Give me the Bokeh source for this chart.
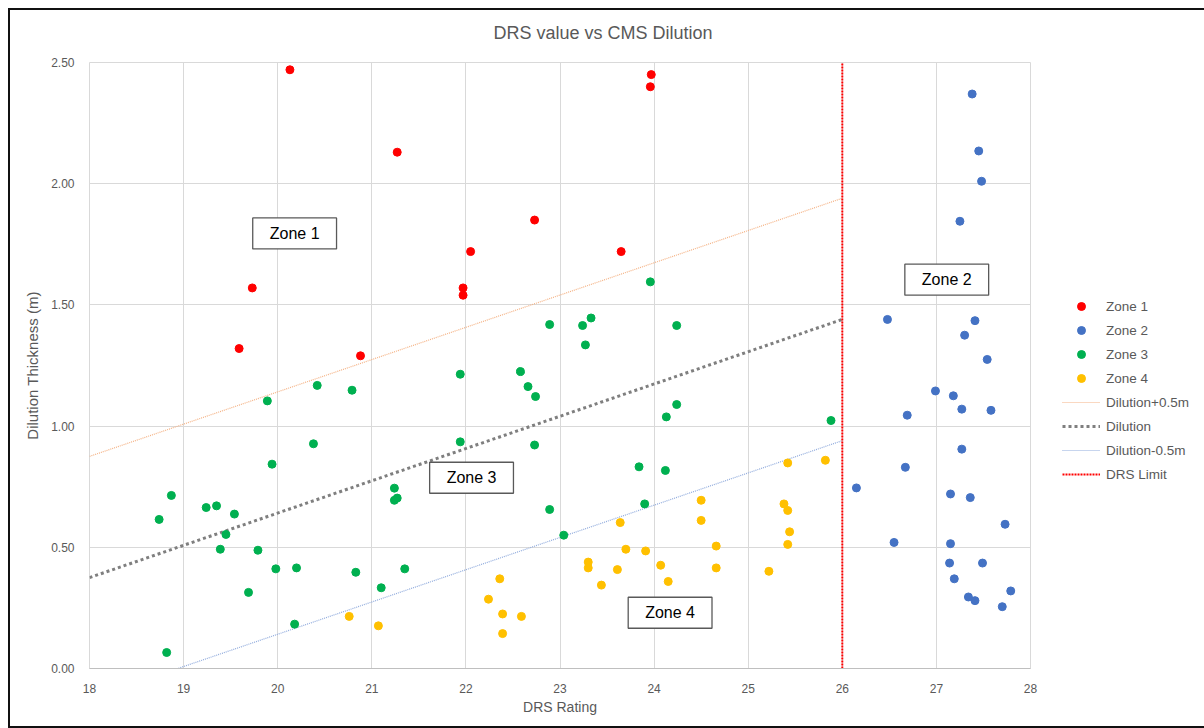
from bokeh.plotting import figure
from bokeh.models import (Range1d, FixedTicker, NumeralTickFormatter, Legend, LegendItem, Label)
from bokeh.core.properties import value
from bokeh.embed import file_html
from bokeh.resources import INLINE

# ---------------- data ----------------
zone1_x = [19.59, 19.73, 20.13, 20.88, 21.27, 21.97, 21.97, 22.05, 22.73, 23.65, 23.96, 23.97]
zone1_y = [1.32, 1.57, 2.47, 1.29, 2.13, 1.57, 1.54, 1.72, 1.85, 1.72, 2.40, 2.45]

zone2_x = [27.38, 27.45, 27.48, 27.25, 26.48, 27.41, 27.30, 27.54, 26.99, 27.18, 27.27, 27.58, 26.69, 27.27,
           26.67, 26.15, 27.15, 27.36, 27.73, 26.55, 27.15, 27.14, 27.49, 27.19, 27.79, 27.34, 27.41, 27.70]
zone2_y = [2.37, 2.135, 2.01, 1.845, 1.44, 1.435, 1.375, 1.275, 1.145, 1.125, 1.07, 1.065, 1.045, 0.905,
           0.83, 0.745, 0.72, 0.705, 0.595, 0.52, 0.515, 0.435, 0.435, 0.37, 0.32, 0.295, 0.28, 0.255]

zone3_x = [23.96, 22.89, 23.24, 23.33, 23.27, 24.24, 22.58,
           20.42, 20.79, 19.89, 20.38, 19.94, 18.87, 18.74, 19.24, 19.35, 19.54, 19.45, 19.39, 19.79,
           19.98, 20.20, 20.83, 21.35, 21.10, 19.69, 20.18, 18.82, 21.24, 21.24, 21.27,
           21.94, 22.66, 22.74, 21.94, 22.73, 24.24, 24.13, 23.84, 24.12, 23.90, 22.89, 23.04, 25.88]
zone3_y = [1.595, 1.419, 1.415, 1.446, 1.335, 1.415, 1.225,
           1.168, 1.148, 1.104, 0.927, 0.843, 0.714, 0.615, 0.664, 0.671, 0.637, 0.553, 0.492, 0.488,
           0.411, 0.415, 0.397, 0.411, 0.333, 0.314, 0.183, 0.066, 0.744, 0.694, 0.703,
           1.214, 1.163, 1.122, 0.935, 0.922, 1.089, 1.038, 0.832, 0.817, 0.679, 0.656, 0.550, 1.023]

zone4_x = [24.50, 24.50, 23.64, 23.70, 23.91, 24.66, 24.66, 23.30, 23.30, 23.61, 24.07, 24.15, 23.44,
           22.36, 22.24, 22.39, 22.59, 22.39, 20.76, 21.07, 25.42, 25.82, 25.38, 25.42, 25.44, 25.42, 25.22]
zone4_y = [0.694, 0.611, 0.602, 0.492, 0.485, 0.505, 0.415, 0.439, 0.415, 0.408, 0.426, 0.359, 0.344,
           0.370, 0.286, 0.225, 0.215, 0.144, 0.215, 0.176, 0.848, 0.859, 0.679, 0.652, 0.564, 0.512, 0.401]

line_x = [18, 26]
dilution_plus = [0.875, 1.94]
dilution = [0.375, 1.44]
dilution_minus = [-0.125, 0.94]
drs_limit_x = [26, 26]
drs_limit_y = [0, 2.5]

zone_names = ["Zone 1", "Zone 2", "Zone 3", "Zone 4"]
zone_label_x = [20.18, 27.11, 22.06, 24.17]
zone_label_y = [1.795, 1.604, 0.787, 0.230]

x_ticks = [18, 19, 20, 21, 22, 23, 24, 25, 26, 27, 28]
y_ticks = [0.0, 0.5, 1.0, 1.5, 2.0, 2.5]

title_text = "DRS value  vs CMS Dilution"
x_label = "DRS Rating"
y_label = "Dilution Thickness (m)"

# ---------------- figure ----------------
FONT = "Liberation Sans"
GREY_TXT = "#595959"

p = figure(frame_width=941, frame_height=606, output_backend="svg", toolbar_location=None,
           x_range=Range1d(18, 28), y_range=Range1d(0, 2.5),
           min_border_left=79, min_border_right=172, min_border_top=52, min_border_bottom=58,
           background_fill_color="white", border_fill_color="white")
p.margin = (8, 0, 0, 8)
p.styles = {"border": "2px solid #111111"}

p.title.text = title_text
p.title.align = "left"
p.title.offset = 404
p.title.standoff = 10
p.title.padding = dict(top=0, right=0, bottom=15, left=0)
p.title.text_font = FONT
p.title.text_font_size = "18px"
p.title.text_font_style = "normal"
p.title.text_color = GREY_TXT

p.outline_line_color = "#D9D9D9"
p.grid.grid_line_color = "#D9D9D9"
p.grid.grid_line_width = 1

p.xaxis.ticker = FixedTicker(ticks=x_ticks)
p.yaxis.ticker = FixedTicker(ticks=y_ticks)
p.yaxis.formatter = NumeralTickFormatter(format="0.00")
p.xgrid.ticker = FixedTicker(ticks=x_ticks)
p.ygrid.ticker = FixedTicker(ticks=y_ticks)

for ax in (p.xaxis[0], p.yaxis[0]):
    ax.major_tick_line_color = None
    ax.minor_tick_line_color = None
    ax.major_label_text_font = FONT
    ax.major_label_text_font_size = "12px"
    ax.major_label_text_color = GREY_TXT
    ax.axis_label_text_font = FONT
    ax.axis_label_text_font_style = "normal"
    ax.axis_label_text_color = GREY_TXT
p.xaxis.axis_label_text_font_size = "14px"
p.yaxis.axis_label_text_font_size = "15px"
p.xaxis.axis_line_color = "#BFBFBF"
p.yaxis.axis_line_color = None
p.xaxis.axis_label = x_label
p.yaxis.axis_label = y_label
p.xaxis.major_label_standoff = 9
p.xaxis.axis_label_standoff = 3
p.yaxis.major_label_standoff = 9
p.yaxis.axis_label_standoff = 7

# lines
r_plus = p.line(line_x, dilution_plus, line_color="#F4B183", line_width=1.2, line_dash="1 1")
r_dil = p.line(line_x, dilution, line_color="#7F7F7F", line_width=3, line_dash="3 3")
r_minus = p.line(line_x, dilution_minus, line_color="#8FAADC", line_width=1.2, line_dash="1 1")
r_drs = p.line(drs_limit_x, drs_limit_y, line_color="#FF0000", line_width=2, line_dash="2 1")

# points
SZ = 8
r1 = p.scatter(zone1_x, zone1_y, size=SZ, fill_color="#FF0000", line_color="#FF0000")
r2 = p.scatter(zone2_x, zone2_y, size=SZ, fill_color="#4472C4", line_color="#4472C4")
r3 = p.scatter(zone3_x, zone3_y, size=SZ, fill_color="#00B050", line_color="#00B050")
r4 = p.scatter(zone4_x, zone4_y, size=SZ, fill_color="#FFC000", line_color="#FFC000")

# zone boxes
for name, zx, zy in zip(zone_names, zone_label_x, zone_label_y):
    p.add_layout(Label(x=zx, y=zy, text=name, text_align="center", text_baseline="middle",
                       text_font=FONT, text_font_size="16px", text_color="#000000",
                       background_fill_color="white", border_line_color="#595959",
                       border_line_width=1.3,
                       padding=dict(top=7, right=17, bottom=7, left=17)))

legend = Legend(items=[
    LegendItem(label="Zone 1", renderers=[r1]),
    LegendItem(label="Zone 2", renderers=[r2]),
    LegendItem(label="Zone 3", renderers=[r3]),
    LegendItem(label="Zone 4", renderers=[r4]),
    LegendItem(label="Dilution+0.5m", renderers=[r_plus]),
    LegendItem(label="Dilution", renderers=[r_dil]),
    LegendItem(label="Dilution-0.5m", renderers=[r_minus]),
    LegendItem(label="DRS Limit", renderers=[r_drs]),
], location=(32, 184))
legend.padding = 0
legend.margin = 0
legend.spacing = 4
legend.glyph_width = 38
legend.glyph_height = 20
legend.label_height = 20
legend.label_standoff = 6
legend.label_text_font = FONT
legend.label_text_font_size = "13.5px"
legend.label_text_color = GREY_TXT
legend.border_line_color = None
legend.background_fill_alpha = 0
p.add_layout(legend, "right")

open("out.html", "w").write(file_html(p, INLINE))
